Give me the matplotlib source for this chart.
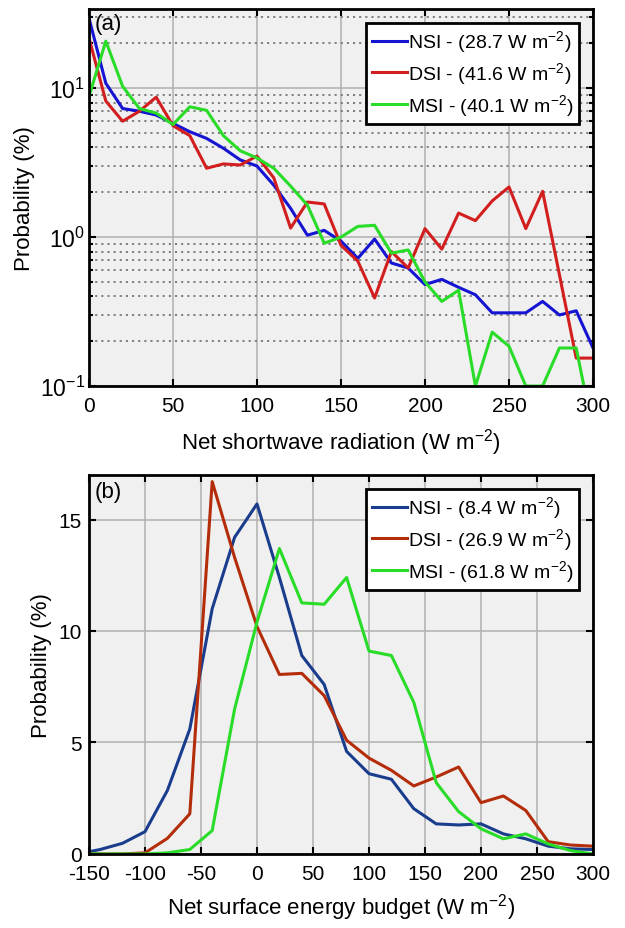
import numpy as np
import matplotlib
matplotlib.use('Agg')
import matplotlib.pyplot as plt
from matplotlib.ticker import LogLocator, FixedLocator, NullFormatter

plt.rcParams['font.family'] = ['Liberation Sans', 'DejaVu Sans']
plt.rcParams['mathtext.default'] = 'regular'
plt.rcParams['axes.unicode_minus'] = False

# panel (a): net shortwave radiation, bins of 10 W m-2
sw_x = list(range(0, 301, 10))
sw_nsi = [29.5, 10.8, 7.3, 7.0, 6.6, 5.8, 5.1, 4.6, 3.95, 3.3, 3.0, 2.23, 1.56, 1.03, 1.11, 0.94,
          0.72, 0.97, 0.67, 0.62, 0.48, 0.52, 0.46, 0.41, 0.31, 0.31, 0.31, 0.37, 0.30, 0.32, 0.18]
sw_dsi = [21.7, 8.2, 6.0, 7.0, 8.7, 5.6, 4.8, 2.9, 3.1, 3.05, 3.5, 2.5, 1.15, 1.72, 1.67, 0.88,
          0.69, 0.39, 0.80, 0.62, 1.14, 0.83, 1.45, 1.29, 1.75, 2.17, 1.14, 2.03, 0.56, 0.154, 0.154]
sw_msi = [8.8, 20.7, 10.3, 7.3, 6.8, 5.7, 7.5, 7.1, 4.8, 3.8, 3.4, 2.9, 2.2, 1.64, 0.91, 1.0,
          1.18, 1.2, 0.78, 0.82, 0.5, 0.37, 0.44, 0.1, 0.23, 0.185, 0.1, 0.1, 0.18, 0.18, 0.05]
sw_labels = ['NSI - (28.7 W m$^{-2}$)', 'DSI - (41.6 W m$^{-2}$)', 'MSI - (40.1 W m$^{-2}$)']

# panel (b): net surface energy budget, bins of 20 W m-2
eb_x = list(range(-160, 301, 20))
eb_nsi = [0.0, 0.2, 0.48, 1.0, 2.85, 5.6, 11.0, 14.2, 15.7, 12.4, 8.9, 7.6, 4.6, 3.6, 3.35, 2.03,
          1.35, 1.3, 1.35, 0.9, 0.68, 0.35, 0.23, 0.2]
eb_dsi = [0.0, 0.0, 0.0, 0.05, 0.7, 1.8, 16.7, 13.3, 10.2, 8.05, 8.1, 7.1, 5.1, 4.3, 3.75, 3.05,
          3.45, 3.9, 2.3, 2.6, 1.95, 0.55, 0.4, 0.35]
eb_msi = [0.0, 0.0, 0.0, 0.0, 0.05, 0.2, 1.05, 6.5, 10.4, 13.7, 11.26, 11.2, 12.4, 9.1, 8.9, 6.8,
          3.2, 1.9, 1.13, 0.68, 0.9, 0.45, 0.15, 0.0]
eb_labels = ['NSI - (8.4 W m$^{-2}$)', 'DSI - (26.9 W m$^{-2}$)', 'MSI - (61.8 W m$^{-2}$)']

TICK_FS = 15
LABEL_FS = 16
LEG_FS = 14
fig = plt.figure(figsize=(6.25, 9.29), dpi=100)
ax1 = fig.add_axes([0.1424, 0.5834, 0.8064, 0.4058])
ax2 = fig.add_axes([0.1424, 0.0797, 0.8064, 0.408])


def style_axes(ax):
    ax.set_facecolor('#f0f0f0')
    for s in ax.spines.values():
        s.set_linewidth(2)
        s.set_color('black')
    ax.tick_params(which='both', direction='in', top=True, right=True, labelsize=TICK_FS,
                   width=1.5, color='black')
    ax.tick_params(which='major', length=5)
    ax.tick_params(which='minor', length=3)
    ax.tick_params(axis='x', which='major', pad=7)
    ax.tick_params(axis='y', which='major', pad=5)
    ax.set_axisbelow(True)


def add_legend(ax):
    leg = ax.legend(loc='upper right', fontsize=LEG_FS, fancybox=False, framealpha=1,
                    edgecolor='black', handlelength=1.8, handletextpad=0.05, borderpad=0.3,
                    labelspacing=0.3, borderaxespad=0.7)
    leg.get_frame().set_linewidth(2)


# (a)
ax1.plot(sw_x, sw_nsi, color='#1414d2', lw=2.2, label=sw_labels[0])
ax1.plot(sw_x, sw_dsi, color='#d21e1e', lw=2.2, label=sw_labels[1])
ax1.plot(sw_x, sw_msi, color='#28dc28', lw=2.2, label=sw_labels[2])
ax1.set_yscale('log')
ax1.set_xlim(0, 300)
ax1.set_ylim(0.1, 34)
ax1.set_xticks(range(0, 301, 50))
ax1.yaxis.set_major_locator(FixedLocator([0.1, 1, 10]))
ax1.set_yticklabels(['$10^{-1}$', '$10^{0}$', '$10^{1}$'])
ax1.yaxis.set_minor_locator(LogLocator(base=10, subs=np.arange(2, 10)))
ax1.yaxis.set_minor_formatter(NullFormatter())
style_axes(ax1)
ax1.tick_params(axis='y', which='major', labelsize=16.5, pad=3)
ax1.grid(which='major', ls='-', color='#b4b4b4', lw=1.2)
ax1.grid(which='minor', axis='y', ls=(0, (1.2, 2.2)), color='#787878', lw=1.3)
ax1.set_xlabel('Net shortwave radiation (W m$^{-2}$)', fontsize=LABEL_FS, labelpad=8)
ax1.set_ylabel('Probability (%)', fontsize=LABEL_FS)
ax1.yaxis.set_label_coords(-0.107, 0.5)
ax1.text(0.012, 0.99, '(a)', transform=ax1.transAxes, fontsize=LABEL_FS, va='top', ha='left')
add_legend(ax1)

# (b)
ax2.plot(eb_x, eb_nsi, color='#1a3c8c', lw=2.2, label=eb_labels[0])
ax2.plot(eb_x, eb_dsi, color='#b42d0a', lw=2.2, label=eb_labels[1])
ax2.plot(eb_x, eb_msi, color='#28dc28', lw=2.2, label=eb_labels[2])
ax2.set_xlim(-150, 300)
ax2.set_ylim(0, 17)
ax2.set_xticks(range(-150, 301, 50))
ax2.set_yticks([0, 5, 10, 15])
style_axes(ax2)
ax2.grid(which='major', ls='-', color='#b4b4b4', lw=1.2)
ax2.set_xlabel('Net surface energy budget (W m$^{-2}$)', fontsize=LABEL_FS, labelpad=6)
ax2.set_ylabel('Probability (%)', fontsize=LABEL_FS)
ax2.yaxis.set_label_coords(-0.073, 0.5)
ax2.text(0.012, 0.985, '(b)', transform=ax2.transAxes, fontsize=LABEL_FS, va='top', ha='left')
add_legend(ax2)

fig.savefig('out.png', dpi=100, facecolor='white')
